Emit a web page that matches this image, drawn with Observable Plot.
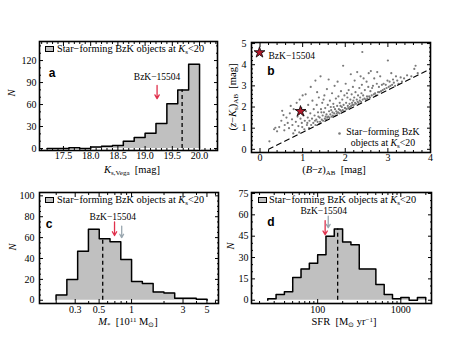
<!DOCTYPE html>
<html><head><meta charset="utf-8">
<script src="https://cdn.jsdelivr.net/npm/d3@7"></script>
<script src="https://cdn.jsdelivr.net/npm/@observablehq/plot@0.6"></script>
<style>
body{margin:0;background:#fff;}
#wrap{position:relative;width:474px;height:355px;overflow:hidden;font-family:"Liberation Serif",serif;color:#000;}
#wrap svg{position:absolute;overflow:visible;}
.lbl{position:absolute;font-size:10px;white-space:nowrap;line-height:1;}
.lbl sub,.lbl sup{font-size:7px;line-height:0;}
.lbl sub{vertical-align:-2px}.lbl sup{vertical-align:3px}
.tag{position:absolute;font-family:"Liberation Sans",Arial,sans-serif;font-weight:bold;font-size:12px;line-height:1;transform:translate(-50%,-50%);}
.sw{position:absolute;width:7px;height:4px;background:#c0c0c0;border:1px solid #000;}
</style></head><body><div id="wrap"></div>
<script>
// ---------- data ----------
// (a) K_s,Vega histogram
const kEdges = [17.2,17.4,17.6,17.8,18.0,18.2,18.4,18.6,18.8,19.0,19.2,19.4,19.6,19.8,20.0];
const kCounts = [0,0,1,0,2,3,4,10,15,21,34,61,80,115];
const kMedian = {x:19.68, n:80};
const kSource = {x:19.22, y1:86, y2:68, ty:97};
const kTicks = [17.5,18.0,18.5,19.0,19.5,20.0];
const kYTicks = [0,30,60,90,120];

// (b) colour-colour diagram
const bzkPoints = [
 [0.22,0.38],[0.33,0.95],[0.36,1.02],[0.40,0.85],
 [0.45,1.05],[0.50,1.35],[0.52,1.82],[0.55,1.62],[0.58,1.15],[0.57,0.9],
 [0.62,1.5],[0.65,1.25],[0.68,1.0],[0.7,1.7],[0.72,2.05],[0.75,1.42],[0.78,0.75],[0.76,1.15],[0.79,1.9],
 [0.82,0.9],[0.84,1.3],[0.86,2.2],[0.88,1.55],[0.9,1.1],[0.92,0.8],[0.95,1.45],[0.97,1.95],[0.98,1.25],[0.93,2.35],[0.99,1.05],
 [1.0,2.55],[1.02,1.6],[1.04,0.95],[1.05,1.35],[1.07,2.6],[1.08,1.8],[1.1,1.15],[1.12,1.5],[1.13,2.1],[1.15,1.0],[1.16,1.35],[1.18,1.7],[1.19,2.95],[1.05,1.85],[1.11,1.25],
 [1.2,1.15],[1.22,1.45],[1.23,2.3],[1.25,1.25],[1.26,1.9],[1.28,1.6],[1.3,3.25],[1.3,1.15],[1.32,1.4],[1.33,2.1],[1.35,1.3],[1.36,1.75],[1.37,1.55],[1.38,2.45],[1.39,1.2],[1.34,2.7],[1.29,1.35],
 [1.4,1.5],[1.41,1.3],[1.42,3.45],[1.43,1.9],[1.45,1.4],[1.46,2.2],[1.47,1.6],[1.48,1.35],[1.5,1.75],[1.51,2.55],[1.52,1.45],[1.53,1.95],[1.55,1.4],[1.56,1.65],[1.57,2.85],[1.58,1.5],[1.59,2.1],[1.44,1.75],[1.54,1.55],[1.49,2.35],
 [1.6,1.55],[1.61,3.3],[1.62,1.8],[1.63,1.5],[1.64,2.3],[1.65,1.65],[1.66,2.0],[1.68,1.55],[1.69,2.65],[1.7,1.75],[1.71,1.6],[1.72,2.15],[1.74,1.7],[1.75,3.0],[1.76,1.9],[1.77,1.6],[1.78,2.4],[1.79,1.8],[1.67,1.85],[1.73,2.0],
 [1.8,1.7],[1.81,2.05],[1.82,3.2],[1.83,1.75],[1.84,2.5],[1.85,1.9],[1.86,1.7],[1.87,2.2],[1.88,1.85],[1.9,2.75],[1.91,1.8],[1.92,2.0],[1.93,2.35],[1.94,1.85],[1.95,3.95],[1.96,2.1],[1.97,1.8],[1.98,2.55],[1.99,1.95],[1.89,2.05],
 [2.0,1.95],[2.01,3.1],[2.02,2.2],[2.03,1.9],[2.05,2.45],[2.06,2.05],[2.07,1.95],[2.08,2.8],[2.1,2.15],[2.11,2.0],[2.12,2.35],[2.13,3.55],[2.14,2.05],[2.15,2.6],[2.16,2.2],[2.17,2.1],[2.18,2.95],[2.19,2.3],[2.04,2.65],
 [2.2,2.1],[2.21,2.45],[2.22,3.25],[2.23,2.2],[2.24,2.7],[2.25,2.15],[2.27,2.35],[2.28,3.65],[2.29,2.25],[2.3,2.55],[2.31,2.2],[2.33,2.9],[2.34,2.3],[2.35,2.45],[2.36,3.45],[2.37,2.25],[2.38,2.65],[2.39,3.05],
 [2.4,4.6],[2.41,2.35],[2.42,2.55],[2.43,3.35],[2.45,2.4],[2.46,2.8],[2.48,2.35],[2.5,3.2],[2.51,2.5],[2.52,2.4],[2.54,2.95],[2.55,3.6],[2.56,2.5],[2.58,2.45],[2.59,2.75],
 [2.6,3.7],[2.62,2.55],[2.63,2.9],[2.65,3.0],[2.67,2.6],[2.68,3.35],[2.7,2.65],[2.72,2.55],[2.74,3.1],[2.75,3.65],[2.77,2.7],[2.79,2.95],
 [2.8,2.7],[2.82,3.45],[2.84,2.75],[2.86,3.05],[2.88,2.8],[2.9,3.1],[2.92,2.85],[2.95,3.05],[2.97,2.9],[2.99,3.25],
 [3.0,4.2],[3.02,2.95],[3.04,3.2],[3.06,3.0],[3.08,3.6],[3.1,3.05],[3.12,3.3],[3.14,3.15],[3.17,3.0],[3.19,3.45],
 [3.22,3.25],[3.25,3.1],[3.3,3.4],[3.33,3.2],[3.38,3.35],
 [3.45,3.5],[3.55,3.45],[3.62,3.8],[3.65,3.95],[3.7,3.6]
];
const bzkSource = [{x:0.95, y:1.8}];
const bzkCut = [{x:0.2, y:0.0},{x:4.0, y:3.8}]; // (z-K) = (B-z) - 0.2
const bzXTicks = [0,1,2,3,4];
const bzYTicks = [0,1,2,3,4,5];

// (c) stellar mass histogram (log10 bin edges, 10^11 Msun)
const mEdgesLog = [-0.7,-0.6,-0.5,-0.4,-0.3,-0.2,-0.1,0.0,0.1,0.2,0.3,0.4,0.5,0.6,0.7];
const mCounts = [5,20,47,68,59,56,39,18,16,8,7,2,2,1];
const mMedian = {x:0.54, n:59};
const mSource = [{x:0.695, y1:75, y2:62, c:"#e0304c"},{x:0.81, y1:71, y2:60, c:"#9aa7b0"}];
const mLabel = {x:0.67, y:80};
const mTicks = [0.3,0.5,1,3,5];
const mYTicks = [0,20,40,60,80,100];

// (d) SFR histogram (log10 bin edges, Msun/yr)
const sEdgesLog = [1.4,1.5,1.6,1.7,1.8,1.9,2.0,2.1,2.2,2.3,2.4,2.5,2.6,2.7,2.8,2.9,3.0,3.1,3.2,3.3];
const sCounts = [1,4,6,16,22,26,32,45,50,41,39,22,22,11,4,1,2,0,2];
const sMedian = {x:174, n:50};
const sSource = [{x:123, y1:56, y2:46, c:"#e0304c"},{x:134, y1:59, y2:51, c:"#9aa7b0"}];
const sLabel = {x:118, y:63};
const sTicks = [100,1000];
const sYTicks = [0,15,30,45,60,75];

// ---------- helpers ----------
const FILL = "#c0c0c0";
function stepPts(edges, counts){
  const p=[{x:edges[0],y:0}];
  counts.forEach((c,i)=>{p.push({x:edges[i],y:c},{x:edges[i+1],y:c});});
  p.push({x:edges[edges.length-1],y:0});
  return p;
}
function axes(o){
  const m = [
    Plot.axisX(o.xMajor,{anchor:"bottom",tickSize:-4,fill:"none",label:null}),
    Plot.axisX(o.xMinor,{anchor:"bottom",tickSize:-2,fill:"none",label:null}),
    Plot.axisX(o.xMajor,{anchor:"top",tickSize:-4,fill:"none",label:null}),
    Plot.axisX(o.xMinor,{anchor:"top",tickSize:-2,fill:"none",label:null}),
    Plot.axisY(o.yMajor,{anchor:"left",tickSize:-4,fill:"none",label:null}),
    Plot.axisY(o.yMinor,{anchor:"left",tickSize:-2,fill:"none",label:null}),
    Plot.axisY(o.yMajor,{anchor:"right",tickSize:-4,fill:"none",label:null}),
    Plot.axisY(o.yMinor,{anchor:"right",tickSize:-2,fill:"none",label:null}),
    Plot.axisY(o.yMajor,{anchor:"left",tickSize:0,tickPadding:o.yPad,label:null})
  ];
  // x tick labels as text marks positioned by the x scale
  m.push(Plot.text(o.xMajor,{x:d=>d,frameAnchor:"bottom",dy:o.xDy,text:o.xFmt,fontSize:10}));
  return m;
}
const style = {fontFamily:"Liberation Serif, serif", fontSize:"10px", background:"transparent", overflow:"visible", color:"#000"};
const wrap = document.getElementById("wrap");
function place(svg, left, top){ svg.style.left=left+"px"; svg.style.top=top+"px"; wrap.appendChild(svg); }
function lbl(html, x, y, mode="c", rot=false, size){
  const d=document.createElement("div"); d.className="lbl"; d.innerHTML=html;
  d.style.left=x+"px"; d.style.top=y+"px";
  if(size) d.style.fontSize=size+"px";
  let t = mode==="c" ? "translate(-50%,-50%)" : "translate(0,-50%)";
  if(rot) t += " rotate(-90deg)";
  d.style.transform=t; wrap.appendChild(d);
}
function tag(t,x,y){const d=document.createElement("div");d.className="tag";d.textContent=t;d.style.left=x+"px";d.style.top=y+"px";wrap.appendChild(d);}
function swatch(x,y){const d=document.createElement("div");d.className="sw";d.style.left=x+"px";d.style.top=y+"px";wrap.appendChild(d);}
const hist = (pts) => [
  Plot.areaY(pts,{x:"x",y1:0,y2:"y",fill:FILL}),
  Plot.line(pts,{x:"x",y:"y",stroke:"#000",strokeWidth:1.5})
];

// ---------- (a) ----------
const kPts = stepPts(kEdges,kCounts);
const pa = Plot.plot({
  width:237, height:177, marginLeft:39, marginRight:20, marginTop:41, marginBottom:27,
  style,
  x:{domain:[17.06,20.33]}, y:{domain:[-2.7,146]},
  marks:[
    ...hist(kPts),
    Plot.ruleX([kMedian],{x:"x",y1:0,y2:"n",stroke:"#000",strokeWidth:1.3,strokeDasharray:"4,3"}),
    Plot.arrow([kSource],{x:"x",y1:"y1",y2:"y2",stroke:"#e0304c",strokeWidth:1.3,headLength:5}),
    Plot.text([kSource],{x:"x",y:"ty",text:()=>"BzK−15504",fontSize:9.5}),
    Plot.frame({stroke:"#000",strokeWidth:1.6}),
    ...axes({xMajor:kTicks,xMinor:d3.range(17.1,20.31,0.1).filter(v=>Math.abs(v*2-Math.round(v*2))>0.01),xDy:8,xFmt:d3.format(".1f"),
             yMajor:kYTicks,yMinor:d3.range(0,146,10).filter(v=>v%30),yPad:3})
  ]
});
place(pa,0,0);

// ---------- (b) ----------
const pb = Plot.plot({
  width:237, height:177, marginLeft:14, marginRight:44, marginTop:42, marginBottom:25,
  style,
  x:{domain:[-0.2,4.0]}, y:{domain:[-0.15,5.05]},
  marks:[
    Plot.dot(bzkPoints,{x:d=>d[0],y:d=>d[1],r:1.1,fill:"#7a7a7a",stroke:"none"}),
    Plot.line(bzkCut,{x:"x",y:"y",stroke:"#000",strokeWidth:1.1,strokeDasharray:"5,4"}),
    Plot.dot(bzkSource,{x:"x",y:"y",symbol:"star",r:3.4,fill:"#b3182b",stroke:"#000",strokeWidth:0.8}),
    Plot.dot([0],{frameAnchor:"top-left",dx:8,dy:10,symbol:"star",r:3.4,fill:"#b3182b",stroke:"#000",strokeWidth:0.8}),
    Plot.text([0],{frameAnchor:"top-left",dx:17,dy:10,text:()=>"BzK−15504",textAnchor:"start",fontSize:9.5}),
    Plot.dot([0],{frameAnchor:"bottom-right",dx:-91,dy:-19,r:1.3,fill:"#7a7a7a"}),
    Plot.frame({stroke:"#000",strokeWidth:1.6}),
    ...axes({xMajor:bzXTicks,xMinor:d3.range(-0.2,4.01,0.2).filter(v=>Math.abs(v-Math.round(v))>0.01),xDy:8,xFmt:d3.format("d"),
             yMajor:bzYTicks,yMinor:d3.range(0,5.01,0.2).filter(v=>Math.abs(v-Math.round(v))>0.01),yPad:5})
  ]
});
place(pb,237,0);

// ---------- (c) ----------
const mPts = stepPts(mEdgesLog.map(e=>10**e), mCounts);
const pc = Plot.plot({
  width:237, height:178, marginLeft:39, marginRight:19, marginTop:15, marginBottom:52,
  style,
  x:{type:"log",domain:[0.14,6.4]}, y:{domain:[-3.1,103.2]},
  marks:[
    ...hist(mPts),
    Plot.ruleX([mMedian],{x:"x",y1:0,y2:"n",stroke:"#000",strokeWidth:1.3,strokeDasharray:"4,3"}),
    Plot.arrow(mSource,{x:"x",y1:"y1",y2:"y2",stroke:"c",strokeWidth:1.3,headLength:5}),
    Plot.text([mLabel],{x:"x",y:"y",text:()=>"BzK−15504",fontSize:9.5}),
    Plot.frame({stroke:"#000",strokeWidth:1.6}),
    ...axes({xMajor:mTicks,xMinor:[0.2,0.4,0.6,0.7,0.8,0.9,2,4,6],xDy:9,xFmt:d=>String(d),
             yMajor:mYTicks,yMinor:d3.range(0,103,5).filter(v=>v%20),yPad:5})
  ]
});
place(pc,0,177);

// ---------- (d) ----------
const sPts = stepPts(sEdgesLog.map(e=>10**e), sCounts);
const pd = Plot.plot({
  width:237, height:178, marginLeft:14, marginRight:43, marginTop:15, marginBottom:52,
  style,
  x:{type:"log",domain:[16,2340]}, y:{domain:[-2.3,75.7]},
  marks:[
    ...hist(sPts),
    Plot.ruleX([sMedian],{x:"x",y1:0,y2:"n",stroke:"#000",strokeWidth:1.3,strokeDasharray:"4,3"}),
    Plot.arrow(sSource,{x:"x",y1:"y1",y2:"y2",stroke:"c",strokeWidth:1.3,headLength:5}),
    Plot.text([sLabel],{x:"x",y:"y",text:()=>"BzK−15504",fontSize:9.5}),
    Plot.frame({stroke:"#000",strokeWidth:1.6}),
    ...axes({xMajor:sTicks,xMinor:[20,30,40,50,60,70,80,90,200,300,400,500,600,700,800,900,2000],xDy:9,xFmt:d=>String(d),
             yMajor:sYTicks,yMinor:d3.range(0,76,5).filter(v=>v%15),yPad:3})
  ]
});
place(pd,237,177);

// ---------- text overlays ----------
const legendHtml = 'Star−forming BzK objects at <i>K</i><sub>s</sub>&lt;20';
swatch(45,46); lbl(legendHtml,57,49,"l",false,10.3);
swatch(45,197); lbl(legendHtml,57,200,"l",false,10.3);
swatch(258,197); lbl(legendHtml,269,200,"l",false,10.3);
lbl('Star−forming BzK',383,131.5,"c",false,9.8);
lbl('objects at <i>K</i><sub>s</sub>&lt;20',383,143,"c",false,9.8);
tag("a",52,73); tag("b",271,71); tag("c",49,224); tag("d",271,222);
lbl('<i>N</i>',12,93,"c",true,10.5);
lbl('<i>K</i><sub>s,Vega</sub>&nbsp;&nbsp;[mag]',132,170,"c",false,10.5);
lbl('(<i>z</i>−<i>K</i><sub>s</sub>)<sub>AB</sub>&nbsp;&nbsp;[mag]',233,97,"c",true,10.5);
lbl('(<i>B</i>−<i>z</i>)<sub>AB</sub>&nbsp;&nbsp;[mag]',334,170,"c",false,10.5);
lbl('<i>N</i>',13,247,"c",true,10.5);
lbl('<i>M</i><sub>*</sub>&nbsp;&nbsp;[10<sup>11</sup> M<sub>⊙</sub>]',128,322,"c",false,10.5);
lbl('<i>N</i>',231,246,"c",true,10.5);
lbl('SFR&nbsp;&nbsp;[M<sub>⊙</sub> yr<sup>−1</sup>]',344,322,"c",false,10.5);
</script></body></html>
